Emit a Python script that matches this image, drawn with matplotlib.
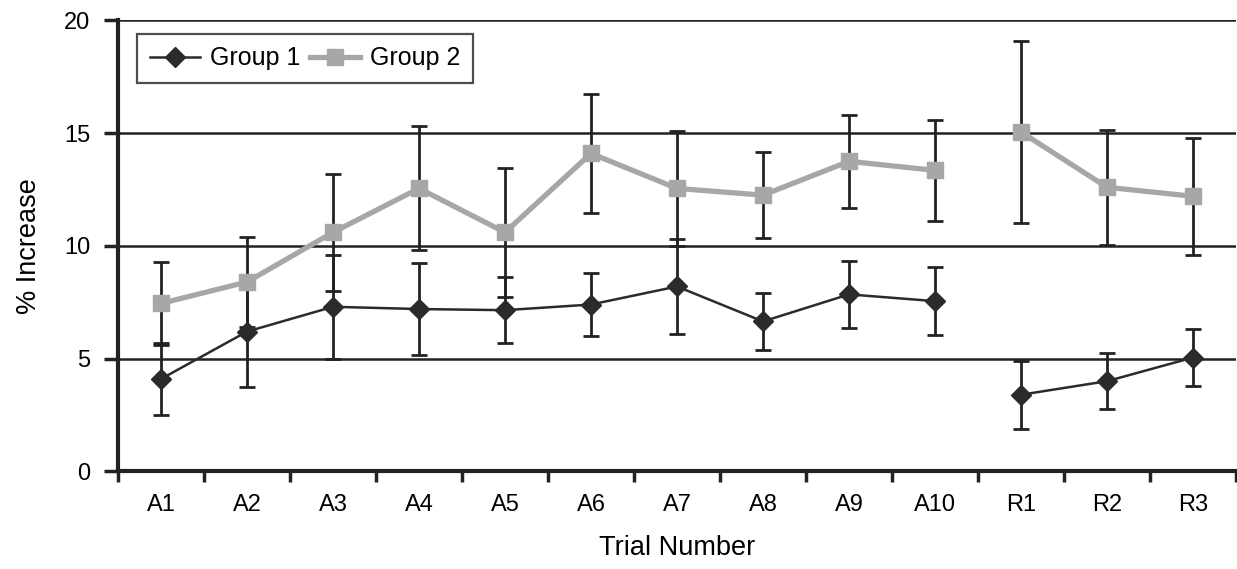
import numpy as np
import matplotlib
matplotlib.use('Agg')
import matplotlib.pyplot as plt

# datos
trials = ['A1', 'A2', 'A3', 'A4', 'A5', 'A6', 'A7', 'A8', 'A9', 'A10', 'R1', 'R2', 'R3']
group1 = [4.1, 6.2, 7.3, 7.2, 7.15, 7.4, 8.2, 6.65, 7.85, 7.55, 3.4, 4.0, 5.05]
group1_err = [1.6, 2.45, 2.3, 2.05, 1.45, 1.4, 2.1, 1.25, 1.5, 1.5, 1.5, 1.25, 1.25]
group2 = [7.45, 8.4, 10.6, 12.55, 10.6, 14.1, 12.55, 12.25, 13.75, 13.35, 15.05, 12.6, 12.2]
group2_err = [1.85, 2.0, 2.6, 2.75, 2.85, 2.65, 2.55, 1.9, 2.05, 2.25, 4.05, 2.55, 2.6]

c1 = '#2b2b2b'
c2 = '#a6a7a9'

plt.rcParams['font.family'] = ['Liberation Sans', 'DejaVu Sans']

fig = plt.figure(figsize=(12.37, 5.69), dpi=100)
ax = fig.add_axes([118 / 1237, 97.6 / 569, 1118 / 1237, 451 / 569])

x = np.arange(len(trials))
g1 = np.array(group1)
g2 = np.array(group2)

# lineas de referencia
for yv in [5, 10, 15, 20]:
    ax.axhline(yv, color='#222222', lw=1.8, zorder=1)

# barras de error
ax.errorbar(x, g1, yerr=group1_err, fmt='none', ecolor='#222222', elinewidth=2,
            capsize=6, capthick=2, zorder=2)
ax.errorbar(x, g2, yerr=group2_err, fmt='none', ecolor='#222222', elinewidth=2,
            capsize=6, capthick=2, zorder=2)

# series, separadas entre A10 y R1
segs = [slice(0, 10), slice(10, 13)]
for k, s in enumerate(segs):
    ax.plot(x[s], g2[s], color=c2, lw=3.8, marker='s', markersize=12,
            markerfacecolor=c2, markeredgecolor=c2, zorder=3,
            label='Group 2' if k == 0 else None)
    ax.plot(x[s], g1[s], color=c1, lw=1.8, marker='D', markersize=10,
            markerfacecolor=c1, markeredgecolor=c1, zorder=4,
            label='Group 1' if k == 0 else None)

ax.set_xlim(-0.5, len(trials) - 0.5)
ax.set_ylim(0, 20)
ax.set_yticks([0, 5, 10, 15, 20])
ax.set_xticks(x)
ax.set_xticklabels(trials)
ax.set_xticks(np.arange(len(trials) + 1) - 0.5, minor=True)
ax.tick_params(axis='x', which='major', length=0, pad=16, labelsize=17)
ax.tick_params(axis='x', which='minor', length=8, width=2.5, direction='out', color='#222222')
ax.tick_params(axis='y', length=10, width=2.5, direction='out', pad=10, labelsize=17,
               color='#222222')

for side in ['top', 'right']:
    ax.spines[side].set_visible(False)
for side in ['left', 'bottom']:
    ax.spines[side].set_linewidth(3)
    ax.spines[side].set_color('#222222')

ax.set_ylabel('% Increase', fontsize=19.5, labelpad=16)
ax.set_xlabel('Trial Number', fontsize=19.5, labelpad=14)

h, l = ax.get_legend_handles_labels()
order = [l.index('Group 1'), l.index('Group 2')]
leg = ax.legend([h[i] for i in order], [l[i] for i in order], loc='upper left',
                ncol=2, fontsize=18, frameon=True, fancybox=False,
                bbox_to_anchor=(0.017, 0.97), borderaxespad=0, handlelength=2.0,
                columnspacing=0.4, handletextpad=0.4, borderpad=0.5)
leg.get_frame().set_edgecolor('#222222')
leg.get_frame().set_linewidth(1.6)

plt.savefig('out.png', dpi=100)
